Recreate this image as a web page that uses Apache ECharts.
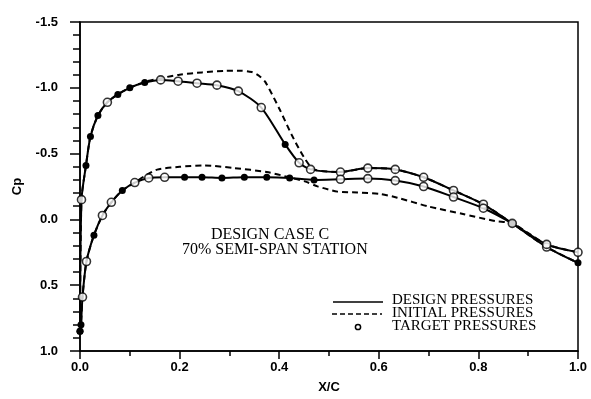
<!DOCTYPE html>
<html>
<head>
<meta charset="utf-8">
<script src="https://cdn.jsdelivr.net/npm/echarts@6/dist/echarts.min.js"></script>
<style>
  html, body { margin: 0; padding: 0; background: #fff; }
  #main { width: 591px; height: 399px; }
</style>
</head>
<body>
<div id="main"></div>
<script>
// upper surface (suction side)
var upperX      = [0.0, 0.003, 0.012, 0.021, 0.036, 0.055, 0.076, 0.10, 0.13, 0.162, 0.197, 0.235, 0.275, 0.318, 0.364, 0.412, 0.44, 0.463, 0.523, 0.578, 0.633, 0.69, 0.75, 0.81, 0.868, 0.937, 1.0];
var upperDesign = [0.85, -0.15, -0.41, -0.63, -0.79, -0.89, -0.95, -1.0, -1.04, -1.06, -1.05, -1.035, -1.02, -0.975, -0.85, -0.57, -0.43, -0.38, -0.36, -0.39, -0.38, -0.32, -0.22, -0.115, 0.03, 0.21, 0.33];
var upperFilled = [0, 2, 3, 4, 6, 7, 8, 15, 24, 26];

// lower surface (pressure side)
var lowerX      = [0.0, 0.002, 0.005, 0.013, 0.028, 0.045, 0.063, 0.085, 0.11, 0.138, 0.17, 0.21, 0.245, 0.285, 0.33, 0.375, 0.421, 0.47, 0.523, 0.578, 0.633, 0.69, 0.75, 0.81, 0.868, 0.937, 1.0];
var lowerDesign = [0.85, 0.80, 0.59, 0.32, 0.12, -0.03, -0.13, -0.22, -0.28, -0.315, -0.32, -0.32, -0.32, -0.315, -0.32, -0.32, -0.315, -0.30, -0.305, -0.31, -0.295, -0.25, -0.17, -0.085, 0.03, 0.19, 0.25];
var lowerFilled = [0, 1, 4, 7, 11, 12, 13, 14, 15, 16, 17];

// initial pressures
var initUpperX  = [0.0, 0.003, 0.012, 0.021, 0.036, 0.055, 0.076, 0.10, 0.13, 0.165, 0.20, 0.245, 0.29, 0.322, 0.345, 0.36, 0.372, 0.40, 0.425, 0.45, 0.47, 0.523, 0.578, 0.633, 0.69, 0.75, 0.81, 0.868, 0.937, 1.0];
var initUpperCp = [0.85, -0.15, -0.41, -0.63, -0.79, -0.89, -0.95, -1.0, -1.045, -1.075, -1.10, -1.117, -1.128, -1.13, -1.12, -1.09, -1.045, -0.843, -0.643, -0.47, -0.38, -0.36, -0.39, -0.38, -0.32, -0.22, -0.115, 0.03, 0.21, 0.33];
var initLowerX  = [0.0, 0.002, 0.005, 0.013, 0.028, 0.045, 0.063, 0.085, 0.11, 0.13, 0.155, 0.2, 0.25, 0.31, 0.375, 0.42, 0.453, 0.477, 0.517, 0.557, 0.603, 0.637, 0.70, 0.767, 0.834, 0.868, 0.937, 1.0];
var initLowerCp = [0.85, 0.80, 0.59, 0.32, 0.12, -0.03, -0.13, -0.22, -0.28, -0.33, -0.378, -0.40, -0.41, -0.39, -0.36, -0.32, -0.287, -0.251, -0.211, -0.205, -0.193, -0.165, -0.098, -0.043, 0.013, 0.03, 0.19, 0.25];

var chart = echarts.init(document.getElementById('main'), null, { renderer: 'canvas' });

function pairs(xs, ys) {
  return xs.map(function (x, i) { return [x, ys[i]]; });
}

// design line: filled dots only where the design value sits on the target
function designData(xs, ys, filled) {
  return xs.map(function (x, i) {
    var on = filled.indexOf(i) >= 0;
    return { value: [x, ys[i]], symbol: on ? 'circle' : 'none', symbolSize: 7 };
  });
}

function targetData(xs, ys, filled) {
  var out = [];
  xs.forEach(function (x, i) {
    if (filled.indexOf(i) < 0) out.push([x, ys[i]]);
  });
  return out;
}

var labelFont = { fontFamily: 'Liberation Sans', fontWeight: 'bold', fontSize: 13, color: '#000' };
var serif = 'Liberation Serif';

var option = {
  backgroundColor: '#fff',
  animation: false,
  grid: { left: 80, right: 13, top: 22, bottom: 42, show: true, borderColor: '#000', borderWidth: 1.5 },
  xAxis: {
    type: 'value', min: 0, max: 1, interval: 0.2,
    name: 'X/C', nameLocation: 'middle', nameGap: 30,
    nameTextStyle: labelFont,
    axisLine: { onZero: false, lineStyle: { color: '#000', width: 1.5 } },
    axisTick: { inside: false, length: 8, lineStyle: { color: '#000', width: 1.5 } },
    minorTick: { show: true, splitNumber: 2, length: 5, lineStyle: { color: '#000', width: 1.5 } },
    axisLabel: Object.assign({ margin: 10, formatter: function (v) { return v.toFixed(1); } }, labelFont),
    splitLine: { show: false }
  },
  yAxis: {
    type: 'value', inverse: true, min: -1.5, max: 1.0, interval: 0.5,
    name: 'Cp', nameLocation: 'middle', nameGap: 56, nameRotate: 90,
    nameTextStyle: labelFont,
    axisLine: { onZero: false, lineStyle: { color: '#000', width: 1.5 } },
    axisTick: { inside: false, length: 10, lineStyle: { color: '#000', width: 1.5 } },
    minorTick: { show: true, splitNumber: 5, length: 7, lineStyle: { color: '#000', width: 1.5 } },
    axisLabel: Object.assign({ margin: 22, formatter: function (v) { return v.toFixed(1); } }, labelFont),
    splitLine: { show: false }
  },
  series: [
    {
      name: 'INITIAL PRESSURES', type: 'line', data: pairs(initUpperX, initUpperCp),
      showSymbol: false, smooth: 0.25, z: 1,
      lineStyle: { color: '#000', width: 2, type: [6, 4] }
    },
    {
      name: 'INITIAL PRESSURES', type: 'line', data: pairs(initLowerX, initLowerCp),
      showSymbol: false, smooth: 0.25, z: 1,
      lineStyle: { color: '#000', width: 2, type: [6, 4] }
    },
    {
      name: 'DESIGN PRESSURES', type: 'line', data: designData(upperX, upperDesign, upperFilled),
      smooth: 0.25, z: 2,
      lineStyle: { color: '#000', width: 2 }, itemStyle: { color: '#000', borderWidth: 0 }
    },
    {
      name: 'DESIGN PRESSURES', type: 'line', data: designData(lowerX, lowerDesign, lowerFilled),
      smooth: 0.25, z: 2,
      lineStyle: { color: '#000', width: 2 }, itemStyle: { color: '#000', borderWidth: 0 }
    },
    {
      name: 'TARGET PRESSURES', type: 'scatter', symbol: 'circle', symbolSize: 8, z: 3,
      data: targetData(upperX, upperDesign, upperFilled).concat(targetData(lowerX, lowerDesign, lowerFilled)),
      itemStyle: { color: '#fff', borderColor: '#000', borderWidth: 1.6 }
    }
  ],
  graphic: [
    { type: 'text', left: 211, top: 227, style: { text: 'DESIGN CASE C', font: '16px ' + serif, fill: '#000' } },
    { type: 'text', left: 182, top: 242, style: { text: '70% SEMI-SPAN STATION', font: '16px ' + serif, fill: '#000' } },
    { type: 'line', shape: { x1: 333, y1: 302, x2: 383, y2: 302 }, style: { stroke: '#000', lineWidth: 1.5 } },
    { type: 'line', shape: { x1: 332, y1: 314, x2: 382, y2: 314 }, style: { stroke: '#000', lineWidth: 1.5, lineDash: [5, 3] } },
    { type: 'circle', shape: { cx: 358, cy: 327, r: 2.6 }, style: { fill: '#fff', stroke: '#000', lineWidth: 1.5 } },
    { type: 'text', left: 392, top: 293, style: { text: 'DESIGN PRESSURES', font: '15px ' + serif, fill: '#000' } },
    { type: 'text', left: 392, top: 306, style: { text: 'INITIAL PRESSURES', font: '15px ' + serif, fill: '#000' } },
    { type: 'text', left: 392, top: 319, style: { text: 'TARGET PRESSURES', font: '15px ' + serif, fill: '#000' } }
  ]
};

chart.setOption(option);
</script>
</body>
</html>
